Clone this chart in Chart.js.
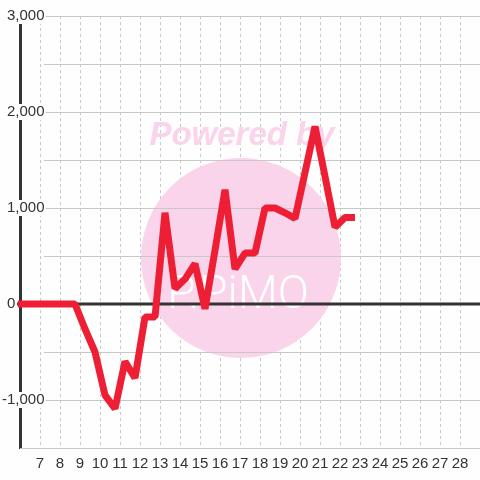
<!DOCTYPE html>
<html>
<head>
<meta charset="utf-8">
<script src="https://cdn.jsdelivr.net/npm/chart.js@4/dist/chart.umd.min.js"></script>
<style>
  html, body { margin: 0; padding: 0; background: #fdfefd; }
  #wrap { width: 480px; height: 480px; }
</style>
</head>
<body>
<div id="wrap"><canvas id="profit"></canvas></div>
<script>
var RED = "#ee1f35";
var GRID = "#c8c8c8";
var DARK = "#333333";
var BG = "#fdfefd";
var PINK = "#fad4ea";

// day of month (half-day steps) and running total
let DAYS = [5.75, 6.25, 6.75, 7.25, 7.75, 8.25, 8.75, 9.25, 9.75, 10.25,
  10.75, 11.25, 11.75, 12.25, 12.75, 13.25, 13.75, 14.25, 14.75, 15.25,
  15.75, 16.25, 16.75, 17.25, 17.75, 18.25, 18.75, 19.25, 19.75, 20.25,
  20.75, 21.25, 21.75, 22.25, 22.75];
let TOTAL = [0, 0, 0, 0, 0, 0, 0, -260, -500, -950,
  -1090, -600, -770, -135, -135, 950, 160, 260, 420, -50,
  560, 1190, 365, 530, 530, 1000, 1000, 950, 890, 1370,
  1850, 1330, 800, 900, 900];
let Y_LABELS = [-1000, 0, 1000, 2000, 3000];

var points = DAYS.map(function (d, i) { return { x: d, y: TOTAL[i] }; });

var bgPlugin = {
  id: "bg",
  beforeDraw: function (chart) {
    var ctx = chart.ctx;
    ctx.save();
    ctx.fillStyle = BG;
    ctx.fillRect(0, 0, chart.width, chart.height);
    ctx.restore();
  }
};

var underPlugin = {
  id: "under",
  beforeDatasetsDraw: function (chart) {
    var ctx = chart.ctx;
    var area = chart.chartArea;
    var y = chart.scales.y;
    ctx.save();
    // watermark
    ctx.fillStyle = PINK;
    ctx.beginPath();
    ctx.arc(241, 258, 100, 0, Math.PI * 2);
    ctx.fill();
    ctx.font = "italic bold 33px 'Liberation Sans'";
    ctx.textAlign = "center";
    ctx.textBaseline = "alphabetic";
    ctx.fillText("Powered by", 242, 145);
    ctx.fillStyle = "#ffffff";
    ctx.font = "300 46px Roboto";
    ctx.fillText("P.PiMO", 238, 308);
    // horizontal grid
    y.ticks.forEach(function (t) {
      var py = y.getPixelForValue(t.value);
      ctx.beginPath();
      if (t.value === 0) {
        ctx.strokeStyle = DARK;
        ctx.lineWidth = 3;
        ctx.moveTo(17, py);
      } else {
        py = Math.round(py) + 0.5;
        ctx.strokeStyle = GRID;
        ctx.lineWidth = 1;
        ctx.moveTo(t.value === y.min ? area.left : 44, py);
      }
      ctx.lineTo(area.right, py);
      ctx.stroke();
    });
    ctx.restore();
  },
  afterDatasetsDraw: function (chart) {
    var ctx = chart.ctx;
    var y = chart.scales.y;
    ctx.save();
    ctx.font = "15px 'Liberation Sans'";
    ctx.textBaseline = "middle";
    ctx.textAlign = "left";
    var minus = ctx.measureText("-").width;
    Y_LABELS.forEach(function (v) {
      var py = y.getPixelForValue(v);
      var txt = v.toLocaleString("en-US");
      var w = ctx.measureText(txt).width;
      var x = v < 0 ? 7 - minus : 7;
      ctx.fillStyle = BG;
      ctx.fillRect(x - 1, py - 8, w + 2, 16);
      ctx.fillStyle = DARK;
      ctx.fillText(txt, x, py);
    });
    ctx.restore();
  }
};

var ctx = document.getElementById("profit").getContext("2d");
var lineChart = new Chart(ctx, {
  type: "line",
  data: {
    datasets: [{
      data: points,
      borderColor: RED,
      borderWidth: 7,
      borderJoinStyle: "bevel",
      pointRadius: 0,
      tension: 0,
      clip: { left: 2, top: 5, right: 5, bottom: 5 }
    }]
  },
  options: {
    responsive: true,
    maintainAspectRatio: false,
    animation: false,
    layout: { padding: { left: 20, top: 16, right: 0, bottom: 0 } },
    plugins: { legend: { display: false }, tooltip: { enabled: false } },
    scales: {
      x: {
        type: "linear",
        min: 6,
        max: 29,
        afterFit: function (s) {
          s.height = 32;
          s.paddingLeft = 0;
          s.paddingRight = 0;
        },
        ticks: {
          stepSize: 1,
          autoSkip: false,
          maxRotation: 0,
          padding: 7,
          color: DARK,
          font: { family: "'Liberation Sans'", size: 15 },
          callback: function (v) { return (v === 6 || v === 29) ? "" : String(v); }
        },
        grid: {
          drawTicks: false,
          color: function (c) {
            var v = c.tick ? c.tick.value : null;
            return (v === 6 || v === 29) ? "rgba(0,0,0,0)" : GRID;
          },
          lineWidth: 1
        },
        border: { display: false, dash: [3, 3] }
      },
      y: {
        min: -1500,
        max: 3000,
        afterFit: function (s) { s.width = 0; },
        ticks: { display: false, stepSize: 500 },
        grid: { display: false },
        border: { display: true, color: DARK, width: 3 }
      }
    }
  },
  plugins: [bgPlugin, underPlugin]
});
</script>
</body>
</html>
